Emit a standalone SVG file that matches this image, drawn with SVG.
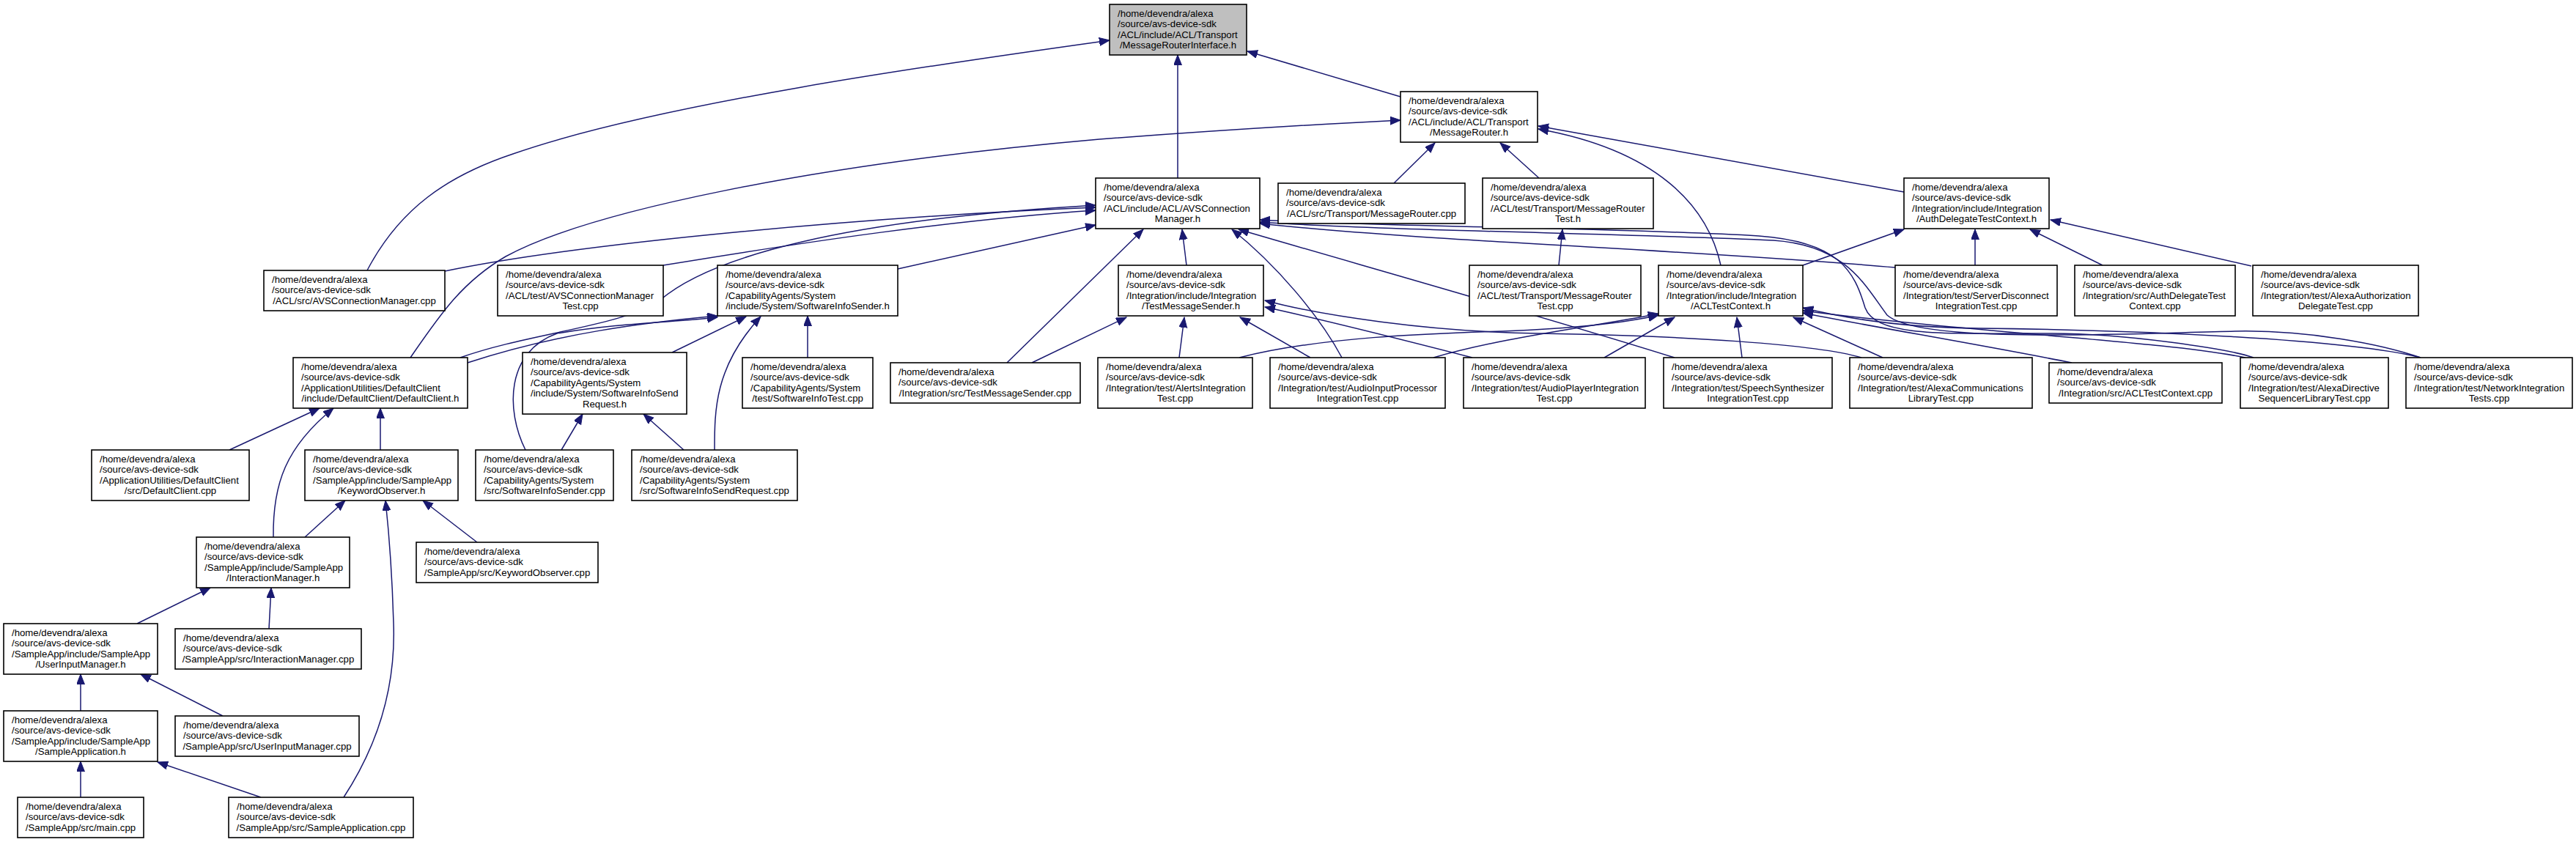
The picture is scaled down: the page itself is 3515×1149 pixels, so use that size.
<svg xmlns="http://www.w3.org/2000/svg" width="3515" height="1149" viewBox="0 0 3515 1149">
<style>
.node rect{fill:#ffffff;stroke:#000000;stroke-width:1.6}
.node.root rect{fill:#bfbfbf}
.node text{font-family:"Liberation Sans",Arial,Helvetica,sans-serif;font-size:13.2px;fill:#000000}
.node .c{text-anchor:middle}
.edges path{fill:none;stroke:#191970;stroke-width:1.5;marker-end:url(#ah)}
</style>
<defs>
<marker id="ah" markerUnits="userSpaceOnUse" markerWidth="16" markerHeight="12" refX="14" refY="5.5" orient="auto">
<path d="M0,0 L14,5.5 L0,11 z" fill="#191970" stroke="#191970" stroke-width="1"/>
</marker>
</defs>
<rect x="0" y="0" width="3515" height="1149" fill="#ffffff"/>
<g id="edges" class="edges">
<path d="M1607,243 L1607,75"/>
<path d="M1911,132 L1702,70"/>
<path d="M501,369 C545,285 610,240 700,210 C900,140 1300,85 1514,55"/>
<path d="M1902,250 L1958,195"/>
<path d="M2100,243 L2047,195"/>
<path d="M560,488 C600,430 630,385 690,350 C800,290 1100,225 1500,190 C1700,175 1850,167 1911,164"/>
<path d="M2348,362 C2330,280 2260,205 2099,176"/>
<path d="M2598,262 L2099,172"/>
<path d="M607,370 C800,330 1200,295 1495,283"/>
<path d="M905,362 C1100,330 1300,300 1495,287"/>
<path d="M628,488 C720,455 850,445 900,410 C970,350 1150,300 1495,280"/>
<path d="M1225,367 L1495,307"/>
<path d="M1619,362 L1613,313"/>
<path d="M1374,495 L1560,313"/>
<path d="M1831,488 C1800,430 1740,360 1681,313"/>
<path d="M2285,488 C2100,430 1850,360 1690,313"/>
<path d="M2586,365 C2300,340 1950,330 1719,305"/>
<path d="M3075,488 C3040,476 2900,455 2800,455 C2650,455 2560,460 2545,420 C2530,370 2510,330 2400,322 C2200,310 1900,310 1719,300"/>
<path d="M3303,488 C3250,470 3150,450 3050,452 C2900,455 2620,470 2575,430 C2545,390 2520,335 2420,328 C2200,318 1900,315 1719,303"/>
<path d="M1408,495 L1537,433"/>
<path d="M1609,488 L1616,433"/>
<path d="M1788,488 L1692,433"/>
<path d="M2009,488 C1900,460 1800,435 1726,419"/>
<path d="M2540,488 C2480,470 2300,458 2100,455 C1950,453 1800,430 1726,410"/>
<path d="M1691,488 C1800,460 1950,455 2050,452 C2150,448 2220,440 2263,430"/>
<path d="M1956,488 C2050,460 2180,445 2263,428"/>
<path d="M2189,488 L2285,433"/>
<path d="M2377,488 L2370,433"/>
<path d="M2569,488 L2447,433"/>
<path d="M2827,495 C2700,470 2550,445 2460,427"/>
<path d="M3064,488 C2950,465 2700,455 2460,424"/>
<path d="M3303,488 C3200,462 2900,450 2700,448 C2600,447 2520,435 2460,420"/>
<path d="M2460,362 L2598,313"/>
<path d="M2695,362 L2695,313"/>
<path d="M2869,362 L2770,313"/>
<path d="M3072,363 L2798,300"/>
<path d="M2127,362 L2132,313"/>
<path d="M638,495 C760,455 880,440 979,431"/>
<path d="M717,614 C690,560 690,480 760,455 C850,440 920,440 979,433"/>
<path d="M917,481 L1018,432"/>
<path d="M1102,488 L1102,431"/>
<path d="M975,614 C975,560 975,500 1038,432"/>
<path d="M766,614 L795,565"/>
<path d="M933,614 L878,565"/>
<path d="M313,614 L436,557"/>
<path d="M519,614 L519,557"/>
<path d="M373,733 C372,660 390,610 455,557"/>
<path d="M416,733 L471,683"/>
<path d="M651,740 L577,683"/>
<path d="M469,1088 C520,1010 540,930 537,850 C535,780 530,720 526,683"/>
<path d="M187,851 L287,802"/>
<path d="M367,858 L370,802"/>
<path d="M110,970 L110,920"/>
<path d="M304,977 L192,920"/>
<path d="M110,1088 L110,1039"/>
<path d="M356,1088 L215,1040"/>
</g>
<g id="n0" class="node root"><rect x="1514" y="6" width="187" height="69"/><text><tspan x="1525" y="22.5">/home/devendra/alexa</tspan><tspan x="1525" y="37.1">/source/avs-device-sdk</tspan><tspan x="1525" y="51.7">/ACL/include/ACL/Transport</tspan><tspan class="c" x="1607.5" y="66.3">/MessageRouterInterface.h</tspan></text></g>
<g id="n1" class="node"><rect x="1911" y="125" width="187" height="69"/><text><tspan x="1922" y="141.5">/home/devendra/alexa</tspan><tspan x="1922" y="156.1">/source/avs-device-sdk</tspan><tspan x="1922" y="170.7">/ACL/include/ACL/Transport</tspan><tspan class="c" x="2004.5" y="185.3">/MessageRouter.h</tspan></text></g>
<g id="n2" class="node"><rect x="1495" y="243" width="224" height="69"/><text><tspan x="1506" y="259.5">/home/devendra/alexa</tspan><tspan x="1506" y="274.1">/source/avs-device-sdk</tspan><tspan x="1506" y="288.7">/ACL/include/ACL/AVSConnection</tspan><tspan class="c" x="1607" y="303.3">Manager.h</tspan></text></g>
<g id="n3" class="node"><rect x="1744" y="250" width="255" height="55"/><text><tspan x="1755" y="266.5">/home/devendra/alexa</tspan><tspan x="1755" y="281.1">/source/avs-device-sdk</tspan><tspan class="c" x="1871.5" y="295.7">/ACL/src/Transport/MessageRouter.cpp</tspan></text></g>
<g id="n4" class="node"><rect x="2023" y="243" width="233" height="69"/><text><tspan x="2034" y="259.5">/home/devendra/alexa</tspan><tspan x="2034" y="274.1">/source/avs-device-sdk</tspan><tspan x="2034" y="288.7">/ACL/test/Transport/MessageRouter</tspan><tspan class="c" x="2139.5" y="303.3">Test.h</tspan></text></g>
<g id="n5" class="node"><rect x="2598" y="243" width="198" height="69"/><text><tspan x="2609" y="259.5">/home/devendra/alexa</tspan><tspan x="2609" y="274.1">/source/avs-device-sdk</tspan><tspan x="2609" y="288.7">/Integration/include/Integration</tspan><tspan class="c" x="2697" y="303.3">/AuthDelegateTestContext.h</tspan></text></g>
<g id="n6" class="node"><rect x="360" y="369" width="247" height="55"/><text><tspan x="371" y="385.5">/home/devendra/alexa</tspan><tspan x="371" y="400.1">/source/avs-device-sdk</tspan><tspan class="c" x="483.5" y="414.7">/ACL/src/AVSConnectionManager.cpp</tspan></text></g>
<g id="n7" class="node"><rect x="679" y="362" width="226" height="69"/><text><tspan x="690" y="378.5">/home/devendra/alexa</tspan><tspan x="690" y="393.1">/source/avs-device-sdk</tspan><tspan x="690" y="407.7">/ACL/test/AVSConnectionManager</tspan><tspan class="c" x="792" y="422.3">Test.cpp</tspan></text></g>
<g id="n8" class="node"><rect x="979" y="362" width="246" height="69"/><text><tspan x="990" y="378.5">/home/devendra/alexa</tspan><tspan x="990" y="393.1">/source/avs-device-sdk</tspan><tspan x="990" y="407.7">/CapabilityAgents/System</tspan><tspan class="c" x="1102" y="422.3">/include/System/SoftwareInfoSender.h</tspan></text></g>
<g id="n9" class="node"><rect x="1526" y="362" width="198" height="69"/><text><tspan x="1537" y="378.5">/home/devendra/alexa</tspan><tspan x="1537" y="393.1">/source/avs-device-sdk</tspan><tspan x="1537" y="407.7">/Integration/include/Integration</tspan><tspan class="c" x="1625" y="422.3">/TestMessageSender.h</tspan></text></g>
<g id="n10" class="node"><rect x="2005" y="362" width="234" height="69"/><text><tspan x="2016" y="378.5">/home/devendra/alexa</tspan><tspan x="2016" y="393.1">/source/avs-device-sdk</tspan><tspan x="2016" y="407.7">/ACL/test/Transport/MessageRouter</tspan><tspan class="c" x="2122" y="422.3">Test.cpp</tspan></text></g>
<g id="n11" class="node"><rect x="2263" y="362" width="197" height="69"/><text><tspan x="2274" y="378.5">/home/devendra/alexa</tspan><tspan x="2274" y="393.1">/source/avs-device-sdk</tspan><tspan x="2274" y="407.7">/Integration/include/Integration</tspan><tspan class="c" x="2361.5" y="422.3">/ACLTestContext.h</tspan></text></g>
<g id="n12" class="node"><rect x="2586" y="362" width="221" height="69"/><text><tspan x="2597" y="378.5">/home/devendra/alexa</tspan><tspan x="2597" y="393.1">/source/avs-device-sdk</tspan><tspan x="2597" y="407.7">/Integration/test/ServerDisconnect</tspan><tspan class="c" x="2696.5" y="422.3">IntegrationTest.cpp</tspan></text></g>
<g id="n13" class="node"><rect x="2831" y="362" width="219" height="69"/><text><tspan x="2842" y="378.5">/home/devendra/alexa</tspan><tspan x="2842" y="393.1">/source/avs-device-sdk</tspan><tspan x="2842" y="407.7">/Integration/src/AuthDelegateTest</tspan><tspan class="c" x="2940.5" y="422.3">Context.cpp</tspan></text></g>
<g id="n14" class="node"><rect x="3074" y="362" width="226" height="69"/><text><tspan x="3085" y="378.5">/home/devendra/alexa</tspan><tspan x="3085" y="393.1">/source/avs-device-sdk</tspan><tspan x="3085" y="407.7">/Integration/test/AlexaAuthorization</tspan><tspan class="c" x="3187" y="422.3">DelegateTest.cpp</tspan></text></g>
<g id="n15" class="node"><rect x="400" y="488" width="238" height="69"/><text><tspan x="411" y="504.5">/home/devendra/alexa</tspan><tspan x="411" y="519.1">/source/avs-device-sdk</tspan><tspan x="411" y="533.7">/ApplicationUtilities/DefaultClient</tspan><tspan class="c" x="519" y="548.3">/include/DefaultClient/DefaultClient.h</tspan></text></g>
<g id="n16" class="node"><rect x="713" y="481" width="224" height="84"/><text><tspan x="724" y="497.5">/home/devendra/alexa</tspan><tspan x="724" y="512.1">/source/avs-device-sdk</tspan><tspan x="724" y="526.7">/CapabilityAgents/System</tspan><tspan x="724" y="541.3">/include/System/SoftwareInfoSend</tspan><tspan class="c" x="825" y="555.9">Request.h</tspan></text></g>
<g id="n17" class="node"><rect x="1013" y="488" width="178" height="69"/><text><tspan x="1024" y="504.5">/home/devendra/alexa</tspan><tspan x="1024" y="519.1">/source/avs-device-sdk</tspan><tspan x="1024" y="533.7">/CapabilityAgents/System</tspan><tspan class="c" x="1102" y="548.3">/test/SoftwareInfoTest.cpp</tspan></text></g>
<g id="n18" class="node"><rect x="1215" y="495" width="259" height="55"/><text><tspan x="1226" y="511.5">/home/devendra/alexa</tspan><tspan x="1226" y="526.1">/source/avs-device-sdk</tspan><tspan class="c" x="1344.5" y="540.7">/Integration/src/TestMessageSender.cpp</tspan></text></g>
<g id="n19" class="node"><rect x="1498" y="488" width="211" height="69"/><text><tspan x="1509" y="504.5">/home/devendra/alexa</tspan><tspan x="1509" y="519.1">/source/avs-device-sdk</tspan><tspan x="1509" y="533.7">/Integration/test/AlertsIntegration</tspan><tspan class="c" x="1603.5" y="548.3">Test.cpp</tspan></text></g>
<g id="n20" class="node"><rect x="1733" y="488" width="239" height="69"/><text><tspan x="1744" y="504.5">/home/devendra/alexa</tspan><tspan x="1744" y="519.1">/source/avs-device-sdk</tspan><tspan x="1744" y="533.7">/Integration/test/AudioInputProcessor</tspan><tspan class="c" x="1852.5" y="548.3">IntegrationTest.cpp</tspan></text></g>
<g id="n21" class="node"><rect x="1997" y="488" width="248" height="69"/><text><tspan x="2008" y="504.5">/home/devendra/alexa</tspan><tspan x="2008" y="519.1">/source/avs-device-sdk</tspan><tspan x="2008" y="533.7">/Integration/test/AudioPlayerIntegration</tspan><tspan class="c" x="2121" y="548.3">Test.cpp</tspan></text></g>
<g id="n22" class="node"><rect x="2270" y="488" width="230" height="69"/><text><tspan x="2281" y="504.5">/home/devendra/alexa</tspan><tspan x="2281" y="519.1">/source/avs-device-sdk</tspan><tspan x="2281" y="533.7">/Integration/test/SpeechSynthesizer</tspan><tspan class="c" x="2385" y="548.3">IntegrationTest.cpp</tspan></text></g>
<g id="n23" class="node"><rect x="2524" y="488" width="249" height="69"/><text><tspan x="2535" y="504.5">/home/devendra/alexa</tspan><tspan x="2535" y="519.1">/source/avs-device-sdk</tspan><tspan x="2535" y="533.7">/Integration/test/AlexaCommunications</tspan><tspan class="c" x="2648.5" y="548.3">LibraryTest.cpp</tspan></text></g>
<g id="n24" class="node"><rect x="2796" y="495" width="236" height="55"/><text><tspan x="2807" y="511.5">/home/devendra/alexa</tspan><tspan x="2807" y="526.1">/source/avs-device-sdk</tspan><tspan class="c" x="2914" y="540.7">/Integration/src/ACLTestContext.cpp</tspan></text></g>
<g id="n25" class="node"><rect x="3057" y="488" width="202" height="69"/><text><tspan x="3068" y="504.5">/home/devendra/alexa</tspan><tspan x="3068" y="519.1">/source/avs-device-sdk</tspan><tspan x="3068" y="533.7">/Integration/test/AlexaDirective</tspan><tspan class="c" x="3158" y="548.3">SequencerLibraryTest.cpp</tspan></text></g>
<g id="n26" class="node"><rect x="3283" y="488" width="227" height="69"/><text><tspan x="3294" y="504.5">/home/devendra/alexa</tspan><tspan x="3294" y="519.1">/source/avs-device-sdk</tspan><tspan x="3294" y="533.7">/Integration/test/NetworkIntegration</tspan><tspan class="c" x="3396.5" y="548.3">Tests.cpp</tspan></text></g>
<g id="n27" class="node"><rect x="125" y="614" width="215" height="69"/><text><tspan x="136" y="630.5">/home/devendra/alexa</tspan><tspan x="136" y="645.1">/source/avs-device-sdk</tspan><tspan x="136" y="659.7">/ApplicationUtilities/DefaultClient</tspan><tspan class="c" x="232.5" y="674.3">/src/DefaultClient.cpp</tspan></text></g>
<g id="n28" class="node"><rect x="416" y="614" width="209" height="69"/><text><tspan x="427" y="630.5">/home/devendra/alexa</tspan><tspan x="427" y="645.1">/source/avs-device-sdk</tspan><tspan x="427" y="659.7">/SampleApp/include/SampleApp</tspan><tspan class="c" x="520.5" y="674.3">/KeywordObserver.h</tspan></text></g>
<g id="n29" class="node"><rect x="649" y="614" width="188" height="69"/><text><tspan x="660" y="630.5">/home/devendra/alexa</tspan><tspan x="660" y="645.1">/source/avs-device-sdk</tspan><tspan x="660" y="659.7">/CapabilityAgents/System</tspan><tspan class="c" x="743" y="674.3">/src/SoftwareInfoSender.cpp</tspan></text></g>
<g id="n30" class="node"><rect x="862" y="614" width="226" height="69"/><text><tspan x="873" y="630.5">/home/devendra/alexa</tspan><tspan x="873" y="645.1">/source/avs-device-sdk</tspan><tspan x="873" y="659.7">/CapabilityAgents/System</tspan><tspan class="c" x="975" y="674.3">/src/SoftwareInfoSendRequest.cpp</tspan></text></g>
<g id="n31" class="node"><rect x="268" y="733" width="209" height="69"/><text><tspan x="279" y="749.5">/home/devendra/alexa</tspan><tspan x="279" y="764.1">/source/avs-device-sdk</tspan><tspan x="279" y="778.7">/SampleApp/include/SampleApp</tspan><tspan class="c" x="372.5" y="793.3">/InteractionManager.h</tspan></text></g>
<g id="n32" class="node"><rect x="568" y="740" width="248" height="55"/><text><tspan x="579" y="756.5">/home/devendra/alexa</tspan><tspan x="579" y="771.1">/source/avs-device-sdk</tspan><tspan class="c" x="692" y="785.7">/SampleApp/src/KeywordObserver.cpp</tspan></text></g>
<g id="n33" class="node"><rect x="5" y="851" width="210" height="69"/><text><tspan x="16" y="867.5">/home/devendra/alexa</tspan><tspan x="16" y="882.1">/source/avs-device-sdk</tspan><tspan x="16" y="896.7">/SampleApp/include/SampleApp</tspan><tspan class="c" x="110" y="911.3">/UserInputManager.h</tspan></text></g>
<g id="n34" class="node"><rect x="239" y="858" width="254" height="55"/><text><tspan x="250" y="874.5">/home/devendra/alexa</tspan><tspan x="250" y="889.1">/source/avs-device-sdk</tspan><tspan class="c" x="366" y="903.7">/SampleApp/src/InteractionManager.cpp</tspan></text></g>
<g id="n35" class="node"><rect x="5" y="970" width="210" height="69"/><text><tspan x="16" y="986.5">/home/devendra/alexa</tspan><tspan x="16" y="1001.1">/source/avs-device-sdk</tspan><tspan x="16" y="1015.7">/SampleApp/include/SampleApp</tspan><tspan class="c" x="110" y="1030.3">/SampleApplication.h</tspan></text></g>
<g id="n36" class="node"><rect x="239" y="977" width="251" height="55"/><text><tspan x="250" y="993.5">/home/devendra/alexa</tspan><tspan x="250" y="1008.1">/source/avs-device-sdk</tspan><tspan class="c" x="364.5" y="1022.7">/SampleApp/src/UserInputManager.cpp</tspan></text></g>
<g id="n37" class="node"><rect x="24" y="1088" width="172" height="55"/><text><tspan x="35" y="1104.5">/home/devendra/alexa</tspan><tspan x="35" y="1119.1">/source/avs-device-sdk</tspan><tspan class="c" x="110" y="1133.7">/SampleApp/src/main.cpp</tspan></text></g>
<g id="n38" class="node"><rect x="312" y="1088" width="252" height="55"/><text><tspan x="323" y="1104.5">/home/devendra/alexa</tspan><tspan x="323" y="1119.1">/source/avs-device-sdk</tspan><tspan class="c" x="438" y="1133.7">/SampleApp/src/SampleApplication.cpp</tspan></text></g>
</svg>
